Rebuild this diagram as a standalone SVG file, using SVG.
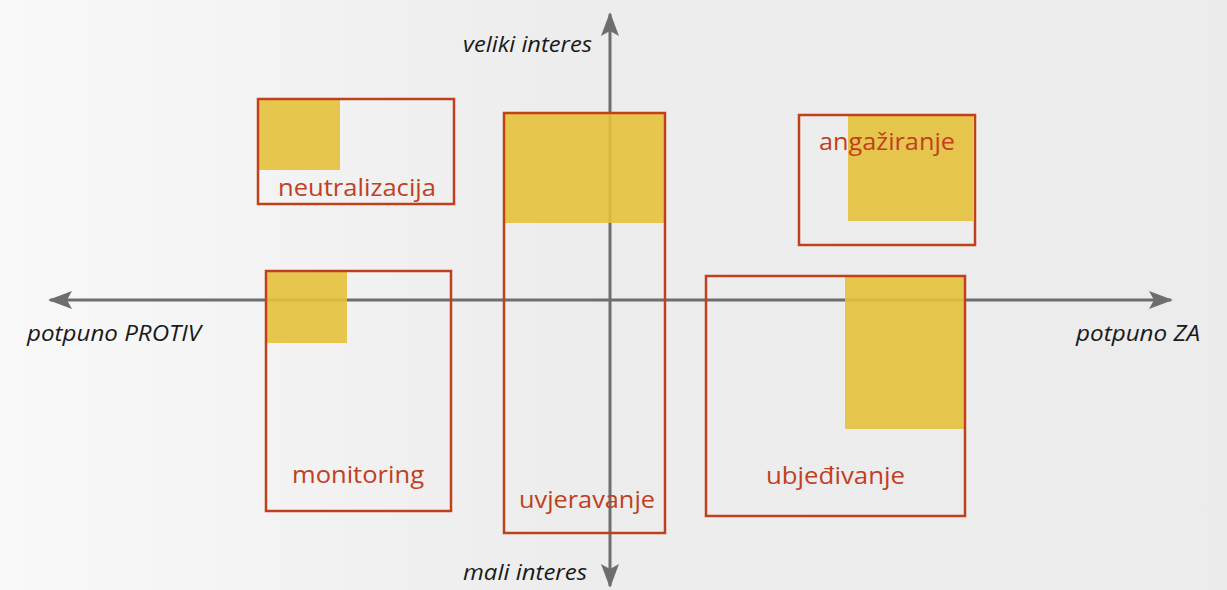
<svg xmlns="http://www.w3.org/2000/svg" width="1227" height="590" viewBox="0 0 1227 590">
  <defs>
    <linearGradient id="bg" x1="0" y1="0" x2="1" y2="0">
      <stop offset="0" stop-color="#f9f9f9"/>
      <stop offset="0.45" stop-color="#ededed"/>
      <stop offset="1" stop-color="#ececec"/>
    </linearGradient>
    <marker id="head" viewBox="0 0 24 20" refX="22" refY="10" markerWidth="24" markerHeight="20" markerUnits="userSpaceOnUse" orient="auto-start-reverse">
      <path d="M0,1 L24,10 L0,19 L5,10 z" fill="#6e6e6e"/>
    </marker>
    <style>
      .axis { stroke: #6e6e6e; stroke-width: 3; fill: none; marker-start: url(#head); marker-end: url(#head); }
      .box { fill: none; stroke: #c0401c; stroke-width: 2.5; }
      .fillbox { fill: #e5c13c; opacity: 0.9; }
      .lbl { font-family: "Open Sans", "Noto Sans", sans-serif; font-size: 24px; fill: #c0401f; }
      .axl { font-family: "Open Sans", "Noto Sans", sans-serif; font-style: italic; font-size: 21px; fill: #1a1a1a; }
    </style>
  </defs>

  <rect x="0" y="0" width="1227" height="590" fill="url(#bg)"/>

  <!-- axes -->
  <g id="connectors">
    <line class="axis" x1="50" y1="300" x2="1171" y2="300"/>
    <line class="axis" x1="610" y1="14" x2="610" y2="586"/>
  </g>

  <!-- axis captions -->
  <g id="axis-labels">
    <text class="axl" x="463" y="52" textLength="129" lengthAdjust="spacingAndGlyphs">veliki interes</text>
    <text class="axl" x="463" y="580" textLength="124" lengthAdjust="spacingAndGlyphs">mali interes</text>
    <text class="axl" x="27" y="341" textLength="174" lengthAdjust="spacingAndGlyphs">potpuno PROTIV</text>
    <text class="axl" x="1076" y="341" textLength="124" lengthAdjust="spacingAndGlyphs">potpuno ZA</text>
  </g>

  <g id="neutralizacija">
    <rect class="fillbox" x="259" y="100" width="81" height="70"/>
    <rect class="box" x="258" y="99" width="196" height="105"/>
    <text class="lbl" x="278" y="196" textLength="158" lengthAdjust="spacingAndGlyphs">neutralizacija</text>
  </g>

  <g id="uvjeravanje">
    <rect class="fillbox" x="505" y="113" width="160" height="110"/>
    <rect class="box" x="504" y="113" width="161" height="420"/>
    <text class="lbl" x="519" y="508" textLength="136" lengthAdjust="spacingAndGlyphs">uvjeravanje</text>
  </g>

  <g id="angaziranje">
    <rect class="fillbox" x="848" y="116" width="125" height="105"/>
    <rect class="box" x="799" y="115" width="176" height="130"/>
    <text class="lbl" x="819" y="150" textLength="136" lengthAdjust="spacingAndGlyphs">angažiranje</text>
  </g>

  <g id="monitoring">
    <rect class="fillbox" x="267" y="272" width="80" height="71"/>
    <rect class="box" x="266" y="271" width="185" height="240"/>
    <text class="lbl" x="292" y="483" textLength="132" lengthAdjust="spacingAndGlyphs">monitoring</text>
  </g>

  <g id="ubjedivanje">
    <rect class="fillbox" x="845" y="277" width="119" height="152"/>
    <rect class="box" x="706" y="276" width="259" height="240"/>
    <text class="lbl" x="766" y="484" textLength="139" lengthAdjust="spacingAndGlyphs">ubjeđivanje</text>
  </g>
</svg>
